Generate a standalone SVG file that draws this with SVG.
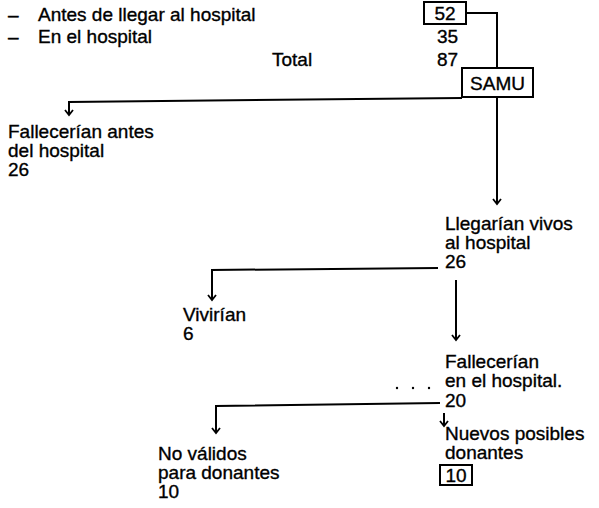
<svg xmlns="http://www.w3.org/2000/svg" width="599" height="508" viewBox="0 0 599 508">
<style>
text{font-family:"Liberation Sans",Arial,sans-serif;font-size:19px;fill:#000;stroke:#000;stroke-width:0.35}
.ln{fill:none;stroke:#000;stroke-width:2}
.bx{fill:#fff;stroke:#000;stroke-width:2}
</style>
<defs>
<marker id="ar" markerWidth="12" markerHeight="12" refX="6" refY="6" orient="auto" markerUnits="userSpaceOnUse">
<path d="M1,2 L6,6 L1,10" fill="none" stroke="#000" stroke-width="1.8"/>
</marker>
</defs>
<g id="connectors">
<path class="ln" d="M466,13 H497 V68"/>
<path class="ln" d="M462,98 L69,102 V115" marker-end="url(#ar)"/>
<path class="ln" d="M497,97 V204" marker-end="url(#ar)"/>
<path class="ln" d="M438,268 L212,270 V300" marker-end="url(#ar)"/>
<path class="ln" d="M456,280 V340" marker-end="url(#ar)"/>
<path class="ln" d="M440,403 L216,406 V433" marker-end="url(#ar)"/>
<path class="ln" d="M444,413 V426" marker-end="url(#ar)"/>
</g>
<g id="header">
<text x="8" y="21">–</text>
<text x="38" y="21">Antes de llegar al hospital</text>
<text x="8" y="43">–</text>
<text x="38" y="43">En el hospital</text>
<text x="272" y="66">Total</text>
</g>
<g id="n52">
<rect class="bx" x="424" y="2" width="42" height="22"/>
<text x="445" y="20" text-anchor="middle">52</text>
</g>
<g id="n35"><text x="437" y="43">35</text></g>
<g id="n87"><text x="437" y="66">87</text></g>
<g id="samu">
<rect class="bx" x="462" y="68" width="71" height="29"/>
<text x="497.5" y="90" text-anchor="middle">SAMU</text>
</g>
<g id="fallecerian-antes">
<text x="8" y="138">Fallecerían antes</text>
<text x="8" y="157">del hospital</text>
<text x="8" y="176">26</text>
</g>
<g id="llegarian">
<text x="445" y="230">Llegarían vivos</text>
<text x="445" y="249">al hospital</text>
<text x="445" y="268">26</text>
</g>
<g id="vivirian">
<text x="183" y="321">Vivirían</text>
<text x="183" y="340">6</text>
</g>
<g id="fallecerian-hospital">
<text x="445" y="368">Fallecerían</text>
<text x="445" y="387">en el hospital.</text>
<text x="445" y="407">20</text>
<circle cx="397" cy="388" r="1.2"/>
<circle cx="413" cy="388" r="1.2"/>
<circle cx="429" cy="388" r="1.2"/>
</g>
<g id="no-validos">
<text x="158" y="460">No válidos</text>
<text x="158" y="479">para donantes</text>
<text x="158" y="498">10</text>
</g>
<g id="nuevos">
<text x="445" y="440">Nuevos posibles</text>
<text x="445" y="459">donantes</text>
<rect class="bx" x="440" y="465" width="32" height="20"/>
<text x="456" y="482" text-anchor="middle">10</text>
</g>
</svg>
